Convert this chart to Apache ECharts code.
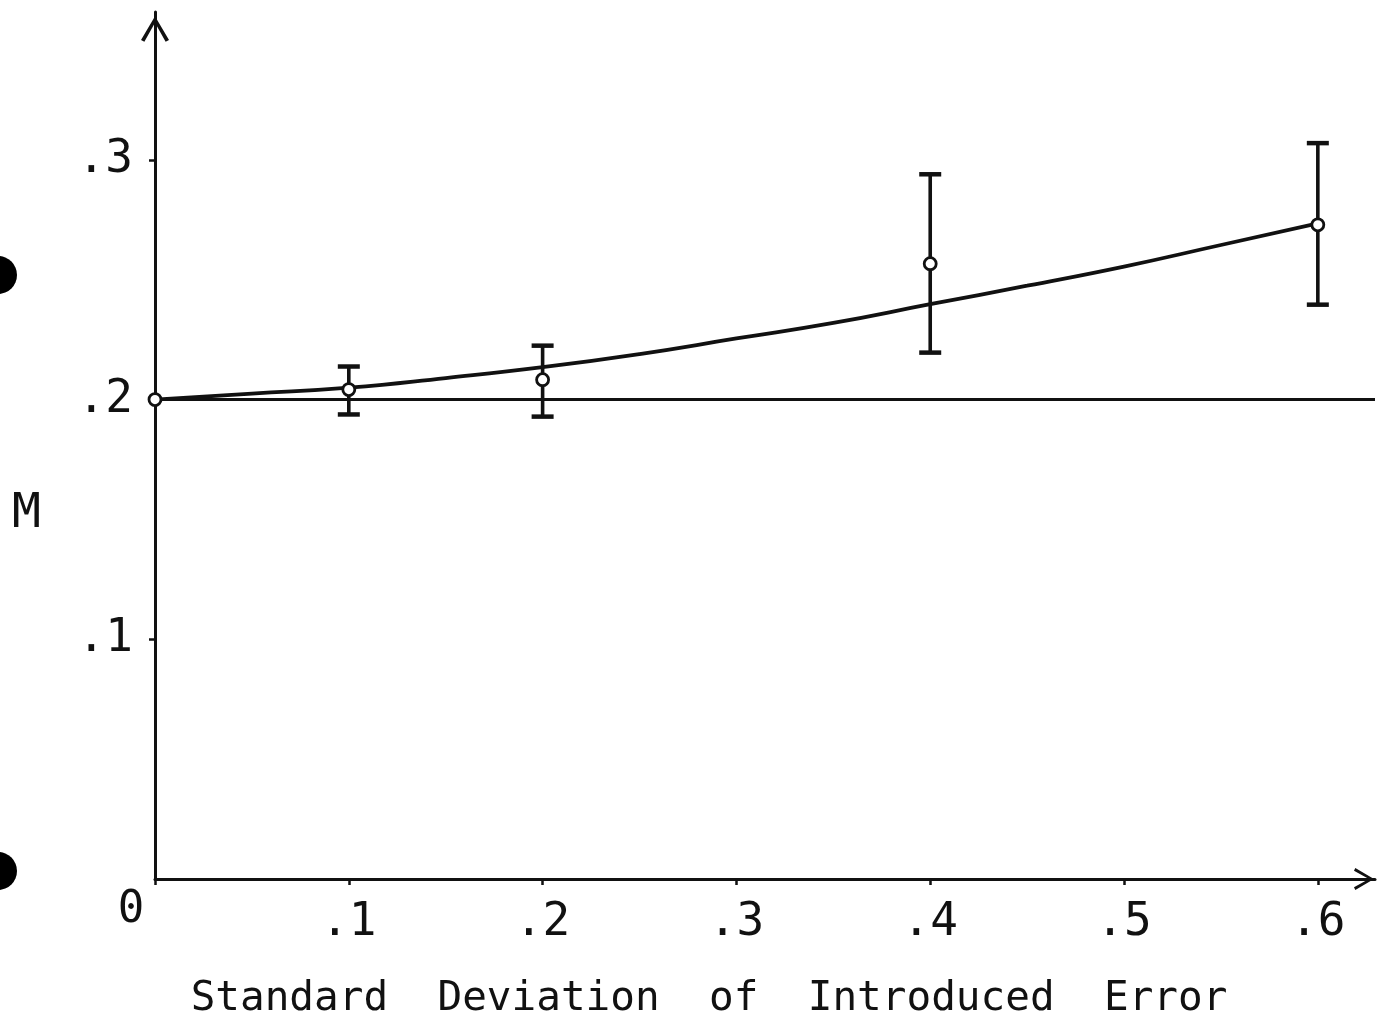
<!DOCTYPE html>
<html>
<head>
<meta charset="utf-8">
<script src="https://cdn.jsdelivr.net/npm/echarts@6/dist/echarts.min.js"></script>
<style>
  html, body { margin: 0; padding: 0; background: #fff; }
  #chart { width: 1384px; height: 1025px; }
</style>
</head>
<body>
<div id="chart"></div>
<script>
// measured points (x = SD of introduced error, y = M)
const pointX = [0, 0.1, 0.2, 0.4, 0.6];
const pointY = [0.2, 0.2042, 0.2083, 0.2567, 0.2729];

// error bars (no bar at x = 0)
const barX = [0.1, 0.2, 0.4, 0.6];
const barLow = [0.1938, 0.1929, 0.2196, 0.2396];
const barHigh = [0.2138, 0.2225, 0.294, 0.307];

// fitted curve
const curveX = [0, 0.05, 0.1, 0.15, 0.2, 0.25, 0.3, 0.35, 0.4, 0.45, 0.5, 0.55, 0.6];
const curveY = [0.2, 0.2025, 0.205, 0.209, 0.2135, 0.219, 0.2255, 0.232, 0.2398, 0.2475, 0.2555, 0.2645, 0.2735];

// reference level
const baseLevel = 0.2;

const xTicks = ["0", ".1", ".2", ".3", ".4", ".5", ".6"];
const yTicks = ["0", ".1", ".2", ".3"];

const INK = "#111";
const FONT = "DejaVu Sans Mono";
// open chevron pointing up, used as axis arrow
const CHEVRON = "path://M10,0 L20,17 L17.6,18.2 L10,4.6 L2.4,18.2 L0,17 Z";

const chart = echarts.init(document.getElementById("chart"));

const option = {
  backgroundColor: "#fff",
  animation: false,
  grid: { left: 155, right: 9, top: 12, bottom: 145, containLabel: false },
  xAxis: {
    type: "value",
    min: 0,
    max: 0.6295,
    interval: 0.1,
    name: "Standard  Deviation  of  Introduced  Error",
    nameLocation: "middle",
    nameGap: 100,
    nameTextStyle: { fontFamily: FONT, fontSize: 41, color: INK, padding: [0, 112, 0, 0] },
    axisLine: {
      onZero: false,
      symbol: ["none", CHEVRON],
      symbolSize: [22, 22],
      symbolOffset: [0, -11],
      lineStyle: { color: INK, width: 3 },
    },
    axisTick: { show: true, length: 6, lineStyle: { color: INK, width: 2.5 } },
    splitLine: { show: false },
    axisLabel: {
      showMaxLabel: false,
      margin: 14,
      fontFamily: FONT,
      fontSize: 46,
      lineHeight: 60,
      color: INK,
      formatter: (v) => {
        const s = xTicks[Math.round(v * 10)];
        return v === 0 ? "{z|" + s + "}" : s;
      },
      rich: {
        z: { fontFamily: FONT, fontSize: 44, lineHeight: 36, color: INK, padding: [0, 48, 0, 0] },
      },
    },
  },
  yAxis: {
    type: "value",
    min: 0,
    max: 0.3617,
    interval: 0.1,
    axisLine: {
      show: true,
      onZero: false,
      symbol: ["none", CHEVRON],
      symbolSize: [28, 34],
      symbolOffset: [0, -17],
      lineStyle: { color: INK, width: 3 },
    },
    axisTick: { show: true, length: 6, lineStyle: { color: INK, width: 2.5 } },
    splitLine: { show: false },
    axisLabel: {
      showMinLabel: false,
      showMaxLabel: false,
      margin: 22,
      fontFamily: FONT,
      fontSize: 46,
      color: INK,
      formatter: (v) => yTicks[Math.round(v * 10)],
    },
  },
  series: [
    {
      name: "fit",
      type: "line",
      smooth: true,
      symbol: "none",
      data: curveX.map((x, i) => [x, curveY[i]]),
      lineStyle: { color: INK, width: 3.8 },
      markLine: {
        silent: true,
        symbol: "none",
        label: { show: false },
        lineStyle: { color: INK, width: 2.8, type: "solid" },
        data: [{ yAxis: baseLevel }],
      },
      z: 3,
    },
    {
      name: "error",
      type: "custom",
      data: barX.map((x, i) => [x, barLow[i], barHigh[i]]),
      encode: { x: 0, y: [1, 2] },
      renderItem: (params, api) => {
        const lo = api.coord([api.value(0), api.value(1)]);
        const hi = api.coord([api.value(0), api.value(2)]);
        const half = 11;
        const style = { stroke: INK, lineWidth: 3.6 };
        const cap = { stroke: INK, lineWidth: 4.5 };
        return {
          type: "group",
          children: [
            { type: "line", shape: { x1: lo[0], y1: lo[1], x2: hi[0], y2: hi[1] }, style },
            { type: "line", shape: { x1: lo[0] - half, y1: lo[1], x2: lo[0] + half, y2: lo[1] }, style: cap },
            { type: "line", shape: { x1: hi[0] - half, y1: hi[1], x2: hi[0] + half, y2: hi[1] }, style: cap },
          ],
        };
      },
      z: 4,
    },
    {
      name: "points",
      type: "scatter",
      data: pointX.map((x, i) => [x, pointY[i]]),
      symbol: "circle",
      symbolSize: 12,
      itemStyle: { color: "#fff", borderColor: INK, borderWidth: 2.8, opacity: 1 },
      z: 5,
    },
  ],
  graphic: [
    // y-axis title
    { type: "text", left: 12, top: 491, style: { text: "M", fontFamily: FONT, fontSize: 48, fill: INK } },
    // punch holes from the scanned page
    { type: "circle", left: -21, top: 256, shape: { r: 19 }, style: { fill: "#000" } },
    { type: "circle", left: -21, top: 852, shape: { r: 19 }, style: { fill: "#000" } },
  ],
};

chart.setOption(option);
</script>
</body>
</html>
